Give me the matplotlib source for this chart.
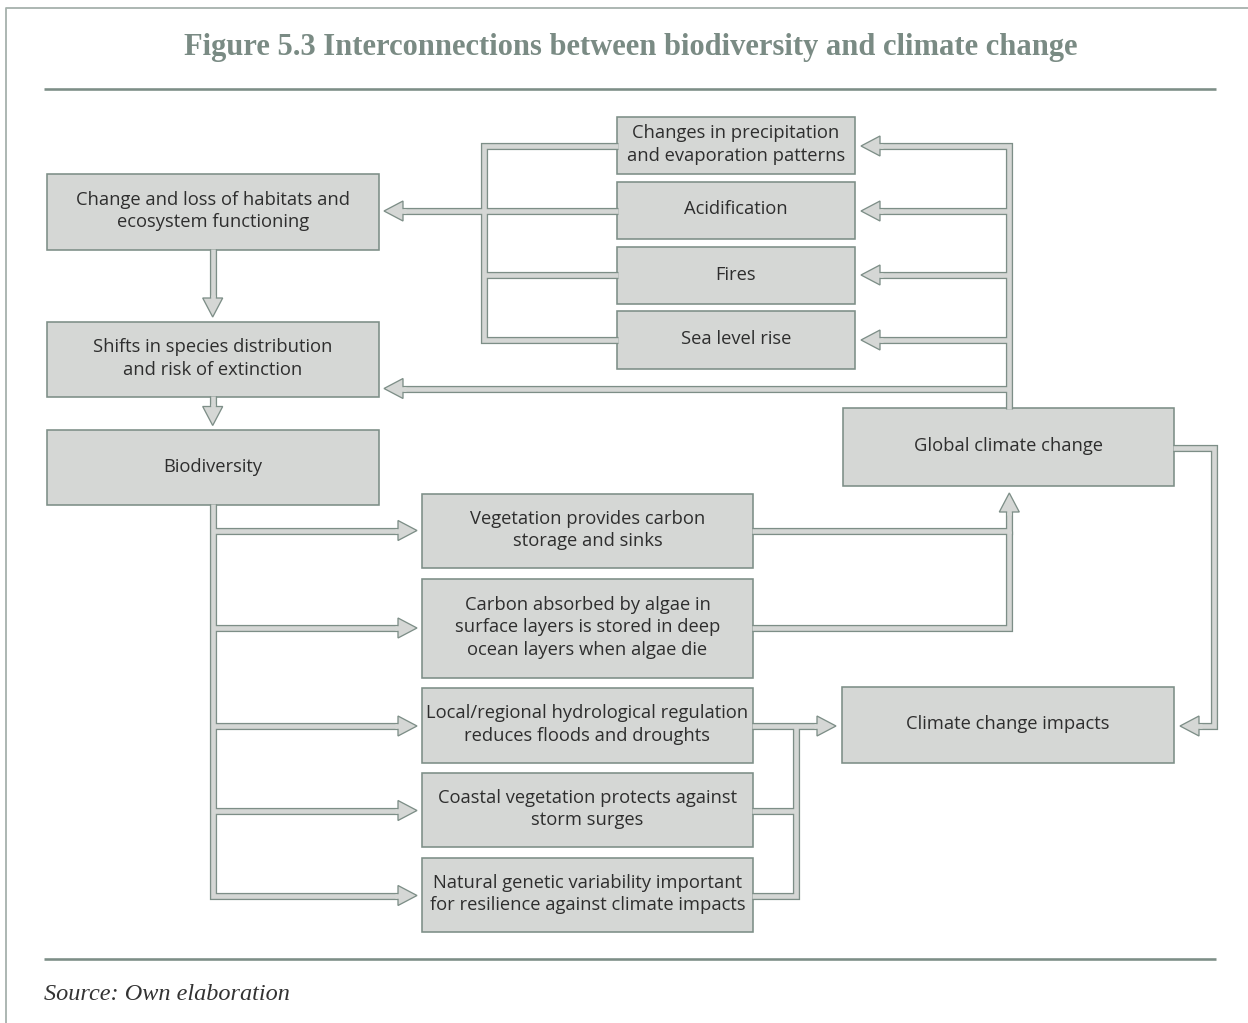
import matplotlib
matplotlib.use("Agg")
import matplotlib.pyplot as plt
from matplotlib.patches import Rectangle, Polygon

W, H = 1248, 1023
FILL = "#d5d7d5"
EDGE = "#7d8e87"
TXT = "#2e2e2e"
TITLE_C = "#7a8b84"

title = "Figure 5.3 Interconnections between biodiversity and climate change"
source = "Source: Own elaboration"

# boxes: label, x0, y0, x1, y1 (pixel layout)
box_labels = [
    "Changes in precipitation\nand evaporation patterns",
    "Acidification",
    "Fires",
    "Sea level rise",
    "Change and loss of habitats and\necosystem functioning",
    "Shifts in species distribution\nand risk of extinction",
    "Biodiversity",
    "Global climate change",
    "Vegetation provides carbon\nstorage and sinks",
    "Carbon absorbed by algae in\nsurface layers is stored in deep\nocean layers when algae die",
    "Local/regional hydrological regulation\nreduces floods and droughts",
    "Coastal vegetation protects against\nstorm surges",
    "Natural genetic variability important\nfor resilience against climate impacts",
    "Climate change impacts",
]
box_x0 = [617, 617, 617, 617, 47, 47, 47, 843, 422, 422, 422, 422, 422, 842]
box_y0 = [117, 182, 247, 311, 174, 322, 430, 408, 494, 579, 688, 773, 858, 687]
box_x1 = [855, 855, 855, 855, 379, 379, 379, 1174, 753, 753, 753, 753, 753, 1174]
box_y1 = [174, 239, 304, 369, 250, 397, 505, 486, 568, 678, 763, 847, 932, 763]

# pipe polylines (pixel layout)
pipes = [
    # global climate change -> drivers
    [(1009, 409), (1009, 146), (872, 146)],
    [(1009, 211), (872, 211)],
    [(1009, 275), (872, 275)],
    [(1009, 340), (872, 340)],
    [(1009, 388.5), (396, 388.5)],
    # drivers -> habitats
    [(618, 146), (484, 146), (484, 340), (618, 340)],
    [(618, 211), (396, 211)],
    [(618, 275), (484, 275)],
    # vertical chain
    [(212.7, 249), (212.7, 298)],
    [(212.7, 396), (212.7, 410)],
    # biodiversity outputs
    [(212.7, 504), (212.7, 895.5), (404, 895.5)],
    [(212.7, 530.5), (404, 530.5)],
    [(212.7, 628), (404, 628)],
    [(212.7, 726), (404, 726)],
    [(212.7, 810.5), (404, 810.5)],
    # carbon -> global climate change
    [(752, 530.5), (1009.3, 530.5), (1009.3, 506)],
    [(752, 628), (1009.3, 628), (1009.3, 530.5)],
    # regulation -> impacts
    [(752, 726), (822, 726)],
    [(752, 895.5), (795.5, 895.5), (795.5, 726)],
    [(752, 810.5), (795.5, 810.5)],
    # global climate change -> impacts
    [(1173, 447.5), (1214, 447.5), (1214, 726), (1194, 726)],
]

# arrowheads: tip x, tip y, direction
heads = [
    (861, 146, "left"), (861, 211, "left"), (861, 275, "left"), (861, 340, "left"),
    (384, 388.5, "left"), (384, 211, "left"),
    (212.7, 317, "down"), (212.7, 425.5, "down"),
    (417, 530.5, "right"), (417, 628, "right"), (417, 726, "right"),
    (417, 810.5, "right"), (417, 895.5, "right"),
    (1009.3, 493, "up"), (836, 726, "right"), (1180, 726, "left"),
]

fig = plt.figure(figsize=(W / 100, H / 100), dpi=100)
ax = fig.add_axes([0, 0, 1, 1])
ax.set_xlim(0, W)
ax.set_ylim(H, 0)
ax.axis("off")

px = 0.72  # points per pixel

# frame
ax.plot([6, 6, W + 5], [H + 5, 8, 8], color="#a6b1ac", lw=1.3, solid_capstyle="butt")
# rules
ax.plot([44, 1216], [89, 89], color=EDGE, lw=2.6 * px, solid_capstyle="butt")
ax.plot([44, 1216], [959, 959], color=EDGE, lw=2.6 * px, solid_capstyle="butt")

ax.text(631, 47, title, ha="center", va="center", fontsize=22,
        fontfamily="Liberation Serif", fontweight="bold", color=TITLE_C)
ax.text(44, 994, source, ha="left", va="center", fontsize=17.5,
        fontfamily="Liberation Serif", fontstyle="italic", color="#333333")

# boxes
for lab, x0, y0, x1, y1 in zip(box_labels, box_x0, box_y0, box_x1, box_y1):
    ax.add_patch(Rectangle((x0, y0), x1 - x0, y1 - y0, facecolor=FILL,
                           edgecolor=EDGE, lw=1.6 * px, zorder=2))
    ax.text((x0 + x1) / 2, (y0 + y1) / 2 - 1, lab, ha="center", va="center",
            fontsize=13.2, fontfamily="Open Sans", color=TXT,
            linespacing=1.3, zorder=6)

OUT = 7.2
INN = 4.6
for p in pipes:
    xs, ys = zip(*p)
    ax.plot(xs, ys, color=EDGE, lw=OUT * px, solid_capstyle="butt",
            solid_joinstyle="miter", zorder=3)
for p in pipes:
    xs, ys = zip(*p)
    ax.plot(xs, ys, color=FILL, lw=INN * px, solid_capstyle="butt",
            solid_joinstyle="miter", zorder=4)

L, HW = 19, 10
for tx, ty, d in heads:
    if d == "left":
        pts = [(tx, ty), (tx + L, ty - HW), (tx + L, ty + HW)]
        joint = ([tx + L - 3, tx + L + 3], [ty, ty])
    elif d == "right":
        pts = [(tx, ty), (tx - L, ty - HW), (tx - L, ty + HW)]
        joint = ([tx - L + 3, tx - L - 3], [ty, ty])
    elif d == "down":
        pts = [(tx, ty), (tx - HW, ty - L), (tx + HW, ty - L)]
        joint = ([tx, tx], [ty - L + 3, ty - L - 3])
    else:
        pts = [(tx, ty), (tx - HW, ty + L), (tx + HW, ty + L)]
        joint = ([tx, tx], [ty + L - 3, ty + L + 3])
    ax.add_patch(Polygon(pts, closed=True, facecolor=FILL, edgecolor=EDGE,
                         lw=1.3 * px, joinstyle="miter", zorder=5))
    ax.plot(*joint, color=FILL, lw=INN * px, solid_capstyle="butt", zorder=5.5)

fig.savefig("out.png", dpi=100)
